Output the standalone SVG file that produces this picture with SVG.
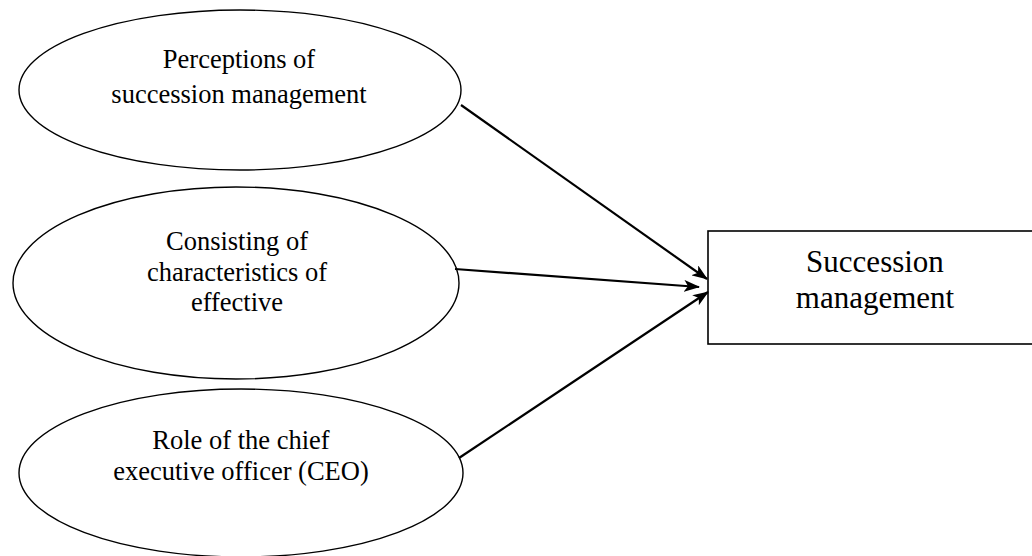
<svg xmlns="http://www.w3.org/2000/svg" width="1032" height="556" viewBox="0 0 1032 556">
<style>
.node{fill:#fff;stroke:#000;stroke-width:1.4}
.lbl{font-family:"Liberation Serif","Times New Roman",serif;font-size:26.5px;fill:#000;text-anchor:middle}
.big{font-size:31px}
.edge{stroke:#000;stroke-width:2.2;fill:none;marker-end:url(#arr)}
</style>
<defs>
<marker id="arr" markerUnits="userSpaceOnUse" viewBox="0 0 16 12" refX="15" refY="6" markerWidth="16" markerHeight="12" orient="auto">
<path d="M0,0 L16,6 L0,12 L4,6 z" fill="#000"/>
</marker>
</defs>
<rect width="1032" height="556" fill="#fff"/>
<g id="n1">
<ellipse class="node" cx="240" cy="90" rx="221" ry="80"/>
<text class="lbl" x="239" y="68">Perceptions of</text>
<text class="lbl" x="239" y="103">succession management</text>
</g>
<g id="n2">
<ellipse class="node" cx="236" cy="283" rx="223" ry="96"/>
<text class="lbl" x="237" y="250">Consisting of</text>
<text class="lbl" x="237" y="281">characteristics of</text>
<text class="lbl" x="237" y="311">effective</text>
</g>
<g id="n3">
<ellipse class="node" cx="241" cy="473" rx="222" ry="84"/>
<text class="lbl" x="241" y="449">Role of the chief</text>
<text class="lbl" x="241" y="480">executive officer (CEO)</text>
</g>
<g id="n4">
<rect class="node" x="708" y="231" width="340" height="113" style="stroke-width:1.6"/>
<text class="lbl big" x="875" y="272">Succession</text>
<text class="lbl big" x="875" y="308">management</text>
</g>
<g id="connectors">
<line class="edge" x1="461" y1="105" x2="707" y2="279"/>
<line class="edge" x1="455" y1="269" x2="699" y2="287"/>
<line class="edge" x1="459" y1="458" x2="708" y2="292"/>
</g>
</svg>
